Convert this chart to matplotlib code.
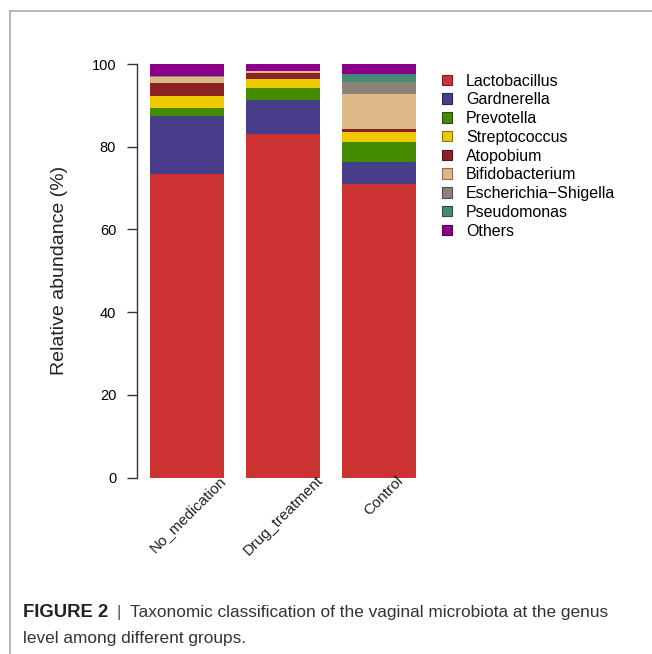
import numpy as np
import matplotlib
matplotlib.use("Agg")
import matplotlib.pyplot as plt
from matplotlib.patches import Patch
from matplotlib.lines import Line2D

plt.rcParams['font.family'] = ['Liberation Sans', 'DejaVu Sans']

groups = ["No_medication", "Drug_treatment", "Control"]
genera = ["Lactobacillus", "Gardnerella", "Prevotella", "Streptococcus", "Atopobium",
          "Bifidobacterium", "Escherichia\u2212Shigella", "Pseudomonas", "Others"]

# relative abundance (%) per genus, order follows groups
lactobacillus = [73.3, 83.0, 70.9]
gardnerella = [14.1, 8.3, 5.3]
prevotella = [2.0, 3.0, 5.0]
streptococcus = [2.9, 2.0, 2.4]
atopobium = [3.0, 1.6, 0.6]
bifidobacterium = [1.6, 0.3, 8.5]
escherichia = [0.1, 0.1, 3.0]
pseudomonas = [0.1, 0.1, 2.0]
others = [2.9, 1.6, 2.3]

colors = ["#CD3333", "#483D8B", "#458B00", "#EEC900", "#8B2323",
          "#DEB887", "#8B8378", "#458B74", "#8B008B"]
edge_colors = ["#7a1f1f", "#2a2452", "#294f00", "#8a7500", "#521515",
               "#8a6f4f", "#524d47", "#294f44", "#520052"]

series = [lactobacillus, gardnerella, prevotella, streptococcus, atopobium,
          bifidobacterium, escherichia, pseudomonas, others]

W, H = 652, 654
fig = plt.figure(figsize=(W / 100, H / 100), dpi=100)

# axes placed in pixel terms: spine at x=137, y=0 at 477.5, y=100 at 64
ax = fig.add_axes([137 / W, 1 - 477.5 / H, 300 / W, 413.5 / H])

x = np.arange(len(groups))
bottom = np.zeros(len(groups))
for vals, c in zip(series, colors):
    ax.bar(x, vals, width=0.768, bottom=bottom, color=c, linewidth=0)
    bottom += np.array(vals)

ax.set_xlim(-0.519, 2.6)
ax.set_ylim(0, 100)
for s in ["top", "right", "bottom"]:
    ax.spines[s].set_visible(False)
ax.spines["left"].set_color("#333333")
ax.spines["left"].set_linewidth(1.0)
ax.set_yticks([0, 20, 40, 60, 80, 100])
ax.tick_params(axis="y", length=7, width=1.0, pad=8, labelsize=10.5, color="#333333")
ax.set_xticks([])

# rotated group labels, nudged to sit like the original
label_dx = [0.33, 0.345, 0.18]
for i, g in enumerate(groups):
    ax.text(i + label_dx[i], 1.0, g, rotation=45, ha="right", va="top",
            rotation_mode="anchor", fontsize=11, color="#222222")

fig.text(60 / W, 1 - 270 / H, "Relative abundance (%)", rotation=90,
         ha="center", va="center", fontsize=14, color="#222222")

handles = [Patch(facecolor=c, edgecolor=e, linewidth=0.8) for c, e in zip(colors, edge_colors)]
fig.legend(handles, genera, loc="upper left", bbox_to_anchor=(442 / W, 1 - 73.5 / H),
           frameon=False, fontsize=11.5, handlelength=0.65, handleheight=0.65,
           handletextpad=0.85, labelspacing=0.235, borderpad=0, borderaxespad=0)

# page frame lines
fig.add_artist(Line2D([9.5 / W, 1], [1 - 10.5 / H, 1 - 10.5 / H], color="#aaaaaa", lw=1.2))
fig.add_artist(Line2D([9.5 / W, 9.5 / W], [0, 1 - 10.5 / H], color="#aaaaaa", lw=1.2))

# caption
fig.text(23 / W, 1 - 617 / H, "FIGURE 2", fontsize=13.3, fontweight="bold", color="#222222")
fig.text(116 / W, 1 - 617 / H, "|", fontsize=12.5, color="#555555")
fig.text(130 / W, 1 - 617 / H, "Taxonomic classification of the vaginal microbiota at the genus",
         fontsize=12.4, color="#333333")
fig.text(23 / W, 1 - 643 / H, "level among different groups.", fontsize=12.4, color="#333333")

fig.savefig("out.png", dpi=100)
